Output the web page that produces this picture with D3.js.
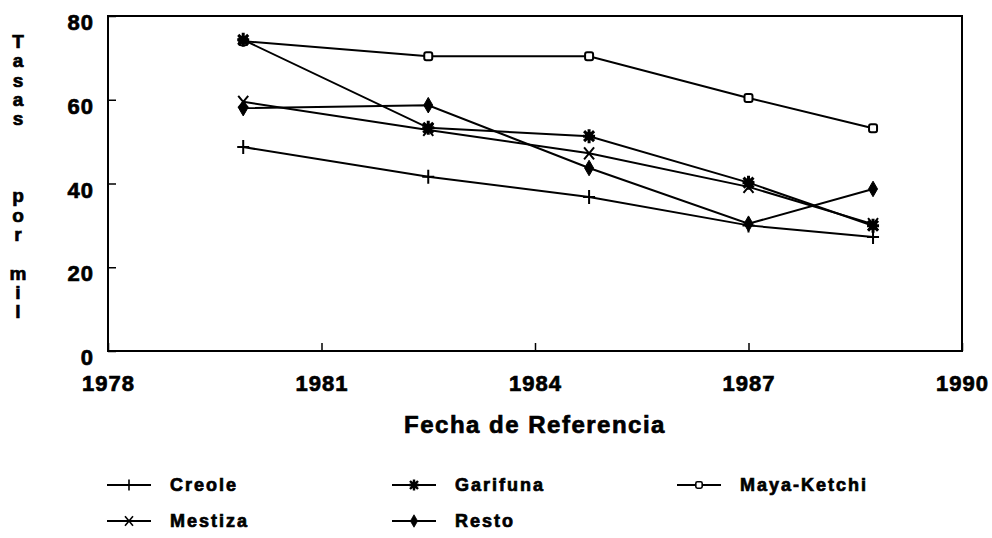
<!DOCTYPE html>
<html>
<head>
<meta charset="utf-8">
<script src="https://cdn.jsdelivr.net/npm/d3@7/dist/d3.min.js"></script>
<style>
  body { margin: 0; background: #fff; }
  text { font-family: "Liberation Sans", Arial, sans-serif; font-weight: bold; fill: #000; stroke: #000; stroke-width: 0.7px; }
  .ytitle { writing-mode: vertical-rl; text-orientation: upright; white-space: pre; }
</style>
</head>
<body>
<div id="chart"></div>
<script>
// values
var years = [1979.9, 1982.5, 1984.76, 1987.0, 1988.75];
var creole   = [48.7, 41.6, 36.8, 30.0, 27.2];
var garifuna = [74.3, 53.3, 51.3, 40.2, 29.9];
var maya     = [74.0, 70.4, 70.4, 60.4, 53.2];
var mestiza  = [59.5, 52.8, 47.2, 39.2, 30.3];
var resto    = [58.0, 58.7, 43.7, 30.4, 38.7];
var seriesNames = ["Creole", "Garifuna", "Maya-Ketchi", "Mestiza", "Resto"];
var xTicks = [1978, 1981, 1984, 1987, 1990];
var yTicks = [0, 20, 40, 60, 80];
var yTitle = "Tasas   por mil";
var xTitle = "Fecha de Referencia";

var W = 992, H = 538;
var margin = {top: 16, right: 30, bottom: 187, left: 108};

var svg = d3.select("#chart").append("svg")
    .attr("width", W)
    .attr("height", H);

var x = d3.scaleLinear().domain([1978, 1990]).range([margin.left, W - margin.right]);
var y = d3.scaleLinear().domain([0, 80]).range([H - margin.bottom, margin.top]);

var series = [
  {name: seriesNames[0], values: creole,   mark: "plus"},
  {name: seriesNames[1], values: garifuna, mark: "star"},
  {name: seriesNames[2], values: maya,     mark: "square"},
  {name: seriesNames[3], values: mestiza,  mark: "cross"},
  {name: seriesNames[4], values: resto,    mark: "diamond"}
];

// marker shapes
function drawMark(g, type) {
  if (type == "plus") {
    g.append("path").attr("d", "M-6,0H6M0,-7V7")
      .attr("stroke", "#000").attr("stroke-width", 2).attr("fill", "none");
  } else if (type == "cross") {
    g.append("path").attr("d", "M-5,-6L5,6M-5,6L5,-6")
      .attr("stroke", "#000").attr("stroke-width", 2).attr("fill", "none");
  } else if (type == "star") {
    g.append("path").attr("d", "M-6,0H6M0,-7V7M-5,-5L5,5M-5,5L5,-5")
      .attr("stroke", "#000").attr("stroke-width", 3).attr("fill", "none");
    g.append("rect").attr("x", -4).attr("y", -4).attr("width", 8).attr("height", 8).attr("fill", "#000");
  } else if (type == "square") {
    g.append("rect").attr("x", -4).attr("y", -4).attr("width", 8).attr("height", 8)
      .attr("fill", "#fff").attr("stroke", "#000").attr("stroke-width", 2).attr("rx", 2);
  } else if (type == "diamond") {
    g.append("path").attr("d", d3.symbol().type(d3.symbolDiamond).size(70)())
      .attr("fill", "#000").attr("stroke", "#000").attr("stroke-width", 1);
  }
}

// frame
svg.append("rect")
    .attr("x", x(1978)).attr("y", y(80))
    .attr("width", x(1990) - x(1978)).attr("height", y(0) - y(80))
    .attr("fill", "none").attr("stroke", "#000").attr("stroke-width", 2);

// axes
var xAxis = svg.append("g")
    .attr("transform", "translate(0," + y(0) + ")")
    .call(d3.axisBottom(x).tickValues(xTicks).tickSize(-8).tickFormat(d3.format("d")));
xAxis.select(".domain").remove();
xAxis.selectAll("line").attr("stroke", "#000").attr("stroke-width", 1.5);
xAxis.selectAll("text")
    .attr("y", 32).attr("dy", "0.35em")
    .style("font-size", "22px").style("letter-spacing", "1px");

var yAxis = svg.append("g")
    .attr("transform", "translate(" + x(1978) + ",0)")
    .call(d3.axisLeft(y).tickValues(yTicks).tickSize(-8));
yAxis.select(".domain").remove();
yAxis.selectAll("line").attr("stroke", "#000").attr("stroke-width", 1.5);
yAxis.selectAll("text")
    .attr("x", -14).attr("dy", "0.62em")
    .style("font-size", "22px").style("letter-spacing", "1px");

// axis titles
svg.append("text")
    .attr("x", (x(1978) + x(1990)) / 2)
    .attr("y", 425).attr("dy", "0.35em")
    .attr("text-anchor", "middle")
    .style("font-size", "24px").style("letter-spacing", "1.5px")
    .text(xTitle);

// stacked y title as one vertical text
svg.append("text")
    .attr("class", "ytitle")
    .attr("x", 18)
    .attr("y", 31)
    .attr("xml:space", "preserve")
    .style("font-size", "19px")
    .style("letter-spacing", "-1.7px")
    .text(yTitle);

// lines
var line = d3.line()
    .x(function(d, i) { return x(years[i]); })
    .y(function(d) { return y(d); });

svg.append("g").selectAll("path")
    .data(series)
    .enter().append("path")
    .attr("d", function(d) { return line(d.values); })
    .attr("fill", "none")
    .attr("stroke", "#000")
    .attr("stroke-width", 2);

// markers, open squares first so filled ones sit on top
var drawOrder = [2, 0, 1, 3, 4];
drawOrder.forEach(function(k) {
  var s = series[k];
  s.values.forEach(function(v, i) {
    var g = svg.append("g").attr("transform", "translate(" + x(years[i]) + "," + y(v) + ")");
    drawMark(g, s.mark);
  });
});

// legend
var legX = [107, 392, 677];
var legY = [485, 521];
var legend = svg.append("g").selectAll("g")
    .data(series)
    .enter().append("g")
    .attr("transform", function(d, i) {
      return "translate(" + legX[i % 3] + "," + legY[Math.floor(i / 3)] + ")";
    });

legend.append("line")
    .attr("x1", 0).attr("x2", 44)
    .attr("stroke", "#000").attr("stroke-width", 2);
legend.each(function(d) {
  var g = d3.select(this).append("g").attr("class", "lm");
  drawMark(g, d.mark);
});
legend.selectAll(".lm").attr("transform", "translate(22,0) scale(0.8)");
legend.append("text")
    .attr("x", 63).attr("dy", "0.35em")
    .style("font-size", "18px").style("letter-spacing", "2px")
    .text(function(d) { return d.name; });
</script>
</body>
</html>
